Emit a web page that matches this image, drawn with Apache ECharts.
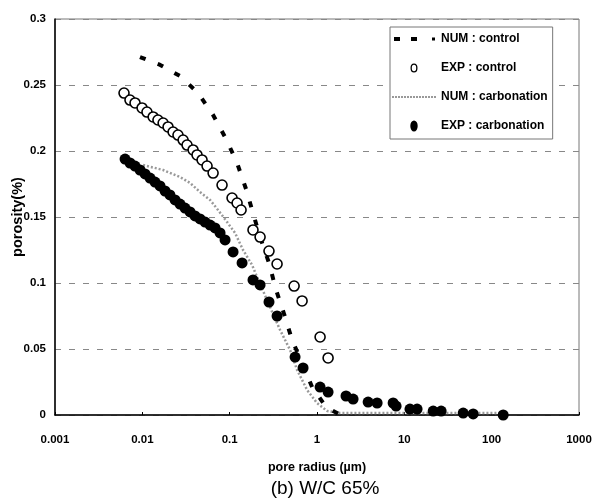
<!DOCTYPE html>
<html><head><meta charset="utf-8">
<script src="https://cdn.jsdelivr.net/npm/echarts@6/dist/echarts.min.js"></script>
<style>html,body{margin:0;padding:0;background:#fff}#c{width:593px;height:500px}</style>
</head><body><div id="c"></div>
<script>
// NUM : control (x = pore radius µm, y = porosity)
const numControlX = [0.0094,0.016,0.027,0.0435,0.0646,0.091,0.1216,0.154,0.185,0.223,0.282,0.340,0.420,0.519,0.675,0.879,1.27,1.75];
const numControlY = [0.2712,0.2652,0.2568,0.2439,0.2273,0.2091,0.1909,0.1712,0.1530,0.1348,0.1152,0.0947,0.0765,0.0568,0.0394,0.0212,0.0061,0.001];
// EXP : control
const expControlX = [0.00617,0.00722,0.00825,0.00993,0.0113,0.0133,0.0151,0.0173,0.0197,0.0225,0.0256,0.0293,0.0325,0.0381,0.0423,0.0483,0.0551,0.0646,0.0818,0.1065,0.1216,0.1351,0.185,0.223,0.282,0.349,0.547,0.675,1.085,1.34];
const expControlY = [0.2439,0.2386,0.2364,0.2326,0.2295,0.2258,0.2235,0.2212,0.2182,0.2144,0.2121,0.2083,0.2045,0.2008,0.1970,0.1932,0.1886,0.1833,0.1742,0.1644,0.1606,0.1553,0.1402,0.1348,0.1242,0.1144,0.0977,0.0864,0.0591,0.0432];
// NUM : carbonation
const numCarbX = [0.0102,0.0173,0.0270,0.0352,0.0458,0.0597,0.0736,0.0934,0.1153,0.1423,0.1806,0.206,0.290,0.378,0.492,0.592,0.771,1.00,1.31,1.84,5,20,80,143];
const numCarbY = [0.1894,0.1856,0.1803,0.1758,0.1689,0.1629,0.1553,0.1462,0.1379,0.1250,0.1136,0.1045,0.0818,0.0644,0.0492,0.0341,0.0189,0.0091,0.003,0.0015,0.0015,0.0015,0.0015,0.0015];
// EXP : carbonation
const expCarbX = [0.00634,0.00723,0.00825,0.00941,0.01074,0.01225,0.01397,0.01594,0.0182,0.0207,0.0237,0.0270,0.0308,0.0352,0.0401,0.0458,0.0523,0.0597,0.0680,0.0776,0.0886,0.1094,0.1387,0.185,0.223,0.282,0.349,0.561,0.693,1.085,1.34,2.15,2.59,3.85,4.88,7.44,8.05,11.6,14.0,21.4,26.4,47.2,61.4,135.5];
const expCarbY = [0.1939,0.1909,0.1886,0.1856,0.1826,0.1795,0.1765,0.1735,0.1697,0.1667,0.1629,0.1598,0.1568,0.1538,0.1508,0.1485,0.1462,0.1439,0.1417,0.1379,0.1326,0.1235,0.1152,0.1023,0.0985,0.0856,0.0750,0.0439,0.0356,0.0212,0.0174,0.0144,0.0121,0.0098,0.0091,0.0091,0.0068,0.0045,0.0045,0.003,0.003,0.0015,0.0008,0];
const xTickLabels = {0.001:'0.001',0.01:'0.01',0.1:'0.1',1:'1',10:'10',100:'100',1000:'1000'};
const yTickLabels = {0:'0',0.05:'0.05',0.1:'0.1',0.15:'0.15',0.2:'0.2',0.25:'0.25',0.3:'0.3'};

const zip = (xs, ys) => xs.map((x, i) => [x, ys[i]]);
const font = "'Liberation Sans Narrow','Liberation Sans',Arial,sans-serif";

// legend icons (44x14 box, tiny corner marks fix the bounding box)
const box = 'M0,0h0.01v0.01h-0.01z M43.99,13.99h0.01v0.01h-0.01z ';
const iconNumControl = 'path://' + box + 'M2,5h6v4h-6z M19,5h6v4h-6z M40,5.5h3v3h-3z';
let dots = '';
for (let x = 0; x < 44; x += 3) dots += 'M' + x + ',6h2v2h-2z ';
const iconNumCarb = 'path://' + box + dots;
const iconExpControl = 'path://' + box + 'M18.5,7a3.5,4.5 0 1,0 7,0a3.5,4.5 0 1,0 -7,0z M19.8,7a2.2,3.2 0 1,1 4.4,0a2.2,3.2 0 1,1 -4.4,0z';
const iconExpCarb = 'path://' + box + 'M18.3,7a3.7,5.5 0 1,0 7.4,0a3.7,5.5 0 1,0 -7.4,0z';

const chart = echarts.init(document.getElementById('c'), null, {renderer: 'canvas'});
chart.setOption({
  animation: false,
  backgroundColor: '#fff',
  grid: {left: 55, right: 14, top: 19, bottom: 85, show: true, borderColor: '#777', borderWidth: 1, containLabel: false, outerBoundsMode: 'none'},
  title: {
    text: '(b) W/C 65%', left: 320, top: 474, textAlign: 'center',
    textStyle: {fontFamily: "'Liberation Sans',Arial,sans-serif", fontSize: 19, fontWeight: 'normal', color: '#000'}
  },
  legend: {
    orient: 'vertical', left: 390, top: 27,
    backgroundColor: '#fff', borderColor: '#777', borderWidth: 1,
    padding: [5, 5, 6, 2], itemGap: 15, itemWidth: 44, itemHeight: 14,
    textStyle: {fontFamily: font, fontSize: 12, fontWeight: 'bold', color: '#000'},
    data: [
      {name: 'NUM : control', icon: iconNumControl, itemStyle: {color: '#000', borderWidth: 0}},
      {name: 'EXP : control', icon: iconExpControl, itemStyle: {color: '#000', borderWidth: 0}},
      {name: 'NUM : carbonation', icon: iconNumCarb, itemStyle: {color: '#999', borderWidth: 0}},
      {name: 'EXP : carbonation', icon: iconExpCarb, itemStyle: {color: '#000', borderWidth: 0}}
    ]
  },
  xAxis: {
    type: 'log', logBase: 10, min: 0.001, max: 1000,
    name: 'pore radius (\u00b5m)', nameLocation: 'middle', nameGap: 46, nameMoveOverlap: false,
    nameTextStyle: {fontFamily: font, fontSize: 12.5, fontWeight: 'bold', color: '#000'},
    axisLine: {lineStyle: {color: '#000', width: 1.5}},
    axisTick: {show: true, inside: true, length: 3, lineStyle: {color: '#000'}},
    minorTick: {show: false},
    splitLine: {show: false},
    axisLabel: {
      margin: 19, color: '#000', fontFamily: font, fontSize: 11.5, fontWeight: 'bold',
      formatter: v => { const k = Object.keys(xTickLabels).find(t => Math.abs(Math.log10(+t) - Math.log10(v)) < 1e-6); return k ? xTickLabels[k] : ''; }
    }
  },
  yAxis: {
    type: 'value', min: 0, max: 0.3, interval: 0.05,
    name: 'porosity(%)', nameLocation: 'middle', nameGap: 30, nameRotate: 90, nameMoveOverlap: false,
    nameTextStyle: {fontFamily: font, fontSize: 14.5, fontWeight: 'bold', color: '#000'},
    axisLine: {show: true, lineStyle: {color: '#000', width: 1.5}},
    axisTick: {show: false},
    splitLine: {show: true, lineStyle: {color: '#888', type: [6, 8], width: 1}},
    axisLabel: {
      margin: 9, color: '#000', fontFamily: font, fontSize: 11.5, fontWeight: 'bold',
      formatter: v => { const k = Object.keys(yTickLabels).find(t => Math.abs(+t - v) < 1e-9); return k !== undefined ? yTickLabels[k] : ''; }
    }
  },
  series: [
    {
      name: 'NUM : control', type: 'line', data: zip(numControlX, numControlY),
      symbol: 'none', lineStyle: {color: '#000', width: 4, type: [6, 13]}, itemStyle: {color: '#000'}, z: 3
    },
    {
      name: 'EXP : control', type: 'scatter', data: zip(expControlX, expControlY),
      symbol: 'circle', symbolSize: 10,
      itemStyle: {color: '#fff', borderColor: '#000', borderWidth: 1.6, opacity: 1}, z: 4
    },
    {
      name: 'NUM : carbonation', type: 'line', data: zip(numCarbX, numCarbY),
      symbol: 'none', lineStyle: {color: '#999', width: 2.5, type: [2, 2]}, itemStyle: {color: '#999'}, z: 2
    },
    {
      name: 'EXP : carbonation', type: 'scatter', data: zip(expCarbX, expCarbY),
      symbol: 'circle', symbolSize: 11,
      itemStyle: {color: '#000', borderColor: '#000', borderWidth: 0, opacity: 1}, z: 5
    }
  ]
});
</script></body></html>
